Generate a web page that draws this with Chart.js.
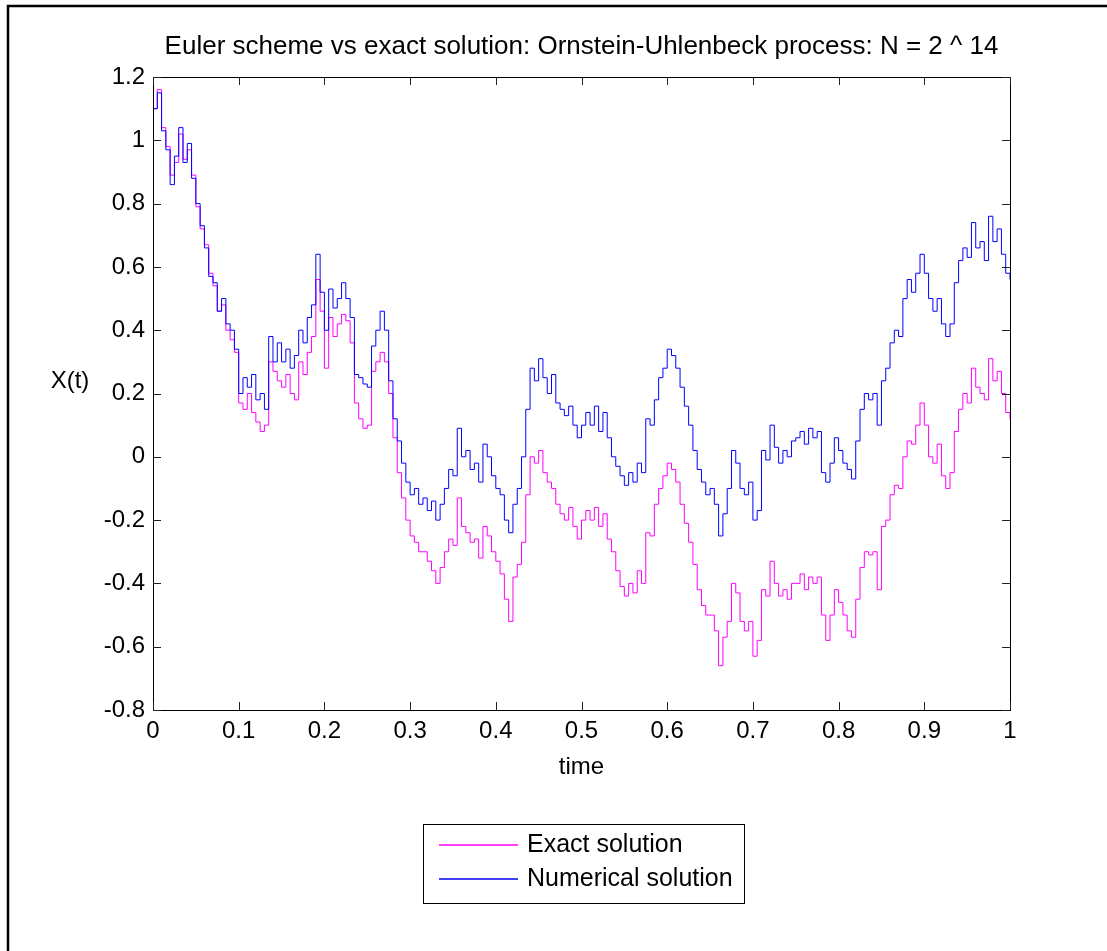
<!DOCTYPE html>
<html>
<head>
<meta charset="utf-8">
<title>Euler scheme vs exact solution</title>
<script src="https://cdn.jsdelivr.net/npm/chart.js@4.4.1/dist/chart.umd.min.js"></script>
<style>
    html, body { margin: 0; padding: 0; background: #fff; }
    #wrap { width: 1107px; height: 951px; }
</style>
</head>
<body>
<div id="wrap"><canvas id="ouChart" width="1107" height="951"></canvas></div>
<script>
// #region data (one sample every 0.005)
const exactSolution = [
    1.10, 1.16, 1.04, 0.98, 0.89, 0.93, 1.02, 0.94, 0.97, 0.89,
    0.79, 0.72, 0.67, 0.58, 0.54, 0.46, 0.48, 0.40, 0.37, 0.33,
    0.17, 0.15, 0.20, 0.14, 0.11, 0.08, 0.10, 0.30, 0.27, 0.24,
    0.22, 0.26, 0.20, 0.18, 0.30, 0.26, 0.33, 0.38, 0.56, 0.46,
    0.28, 0.44, 0.38, 0.42, 0.45, 0.43, 0.36, 0.17, 0.12, 0.09,
    0.10, 0.27, 0.30, 0.33, 0.30, 0.20, 0.06, -0.05, -0.13, -0.20,
    -0.25, -0.27, -0.30, -0.30, -0.33, -0.36, -0.40, -0.35, -0.30, -0.26,
    -0.28, -0.13, -0.22, -0.24, -0.27, -0.26, -0.32, -0.22, -0.25, -0.30,
    -0.33, -0.37, -0.45, -0.52, -0.38, -0.34, -0.27, -0.12, 0.00, -0.02,
    0.02, -0.05, -0.08, -0.10, -0.15, -0.18, -0.20, -0.16, -0.22, -0.26,
    -0.20, -0.17, -0.20, -0.16, -0.22, -0.18, -0.26, -0.30, -0.36, -0.41,
    -0.44, -0.40, -0.43, -0.36, -0.40, -0.24, -0.25, -0.15, -0.10, -0.06,
    -0.02, -0.04, -0.08, -0.15, -0.21, -0.27, -0.34, -0.42, -0.47, -0.50,
    -0.50, -0.55, -0.66, -0.57, -0.52, -0.40, -0.43, -0.52, -0.55, -0.52,
    -0.63, -0.58, -0.42, -0.44, -0.33, -0.40, -0.44, -0.42, -0.45, -0.40,
    -0.40, -0.37, -0.42, -0.38, -0.40, -0.38, -0.50, -0.58, -0.50, -0.42,
    -0.46, -0.50, -0.55, -0.57, -0.45, -0.35, -0.30, -0.31, -0.30, -0.42,
    -0.22, -0.20, -0.12, -0.09, -0.10, 0.00, 0.05, 0.04, 0.10, 0.17,
    0.10, 0.00, -0.02, 0.04, -0.06, -0.10, -0.05, 0.08, 0.15, 0.20,
    0.17, 0.28, 0.22, 0.20, 0.18, 0.31, 0.24, 0.27, 0.20, 0.14,
    0.12
];
const numericalSolution = [
    1.10, 1.15, 1.03, 0.97, 0.86, 0.95, 1.04, 0.93, 0.99, 0.88,
    0.80, 0.73, 0.66, 0.57, 0.55, 0.46, 0.50, 0.42, 0.40, 0.34,
    0.20, 0.25, 0.22, 0.26, 0.18, 0.20, 0.15, 0.38, 0.30, 0.36,
    0.30, 0.34, 0.28, 0.32, 0.40, 0.36, 0.44, 0.48, 0.64, 0.52,
    0.40, 0.53, 0.47, 0.50, 0.55, 0.50, 0.44, 0.26, 0.25, 0.23,
    0.22, 0.35, 0.40, 0.46, 0.40, 0.24, 0.12, 0.05, -0.02, -0.08,
    -0.12, -0.10, -0.15, -0.13, -0.17, -0.14, -0.20, -0.15, -0.10, -0.04,
    -0.06, 0.09, 0.00, 0.02, -0.04, -0.02, -0.08, 0.04, 0.00, -0.06,
    -0.10, -0.12, -0.20, -0.24, -0.15, -0.10, 0.00, 0.15, 0.28, 0.24,
    0.31, 0.25, 0.20, 0.26, 0.17, 0.15, 0.13, 0.16, 0.10, 0.06,
    0.10, 0.14, 0.10, 0.16, 0.08, 0.14, 0.06, 0.00, -0.03, -0.06,
    -0.09, -0.05, -0.08, -0.02, -0.05, 0.12, 0.10, 0.18, 0.25, 0.28,
    0.34, 0.32, 0.28, 0.22, 0.16, 0.10, 0.02, -0.04, -0.08, -0.12,
    -0.10, -0.15, -0.25, -0.18, -0.10, 0.02, -0.02, -0.10, -0.12, -0.08,
    -0.20, -0.17, 0.02, -0.01, 0.10, 0.03, -0.02, 0.02, 0.00, 0.05,
    0.06, 0.08, 0.04, 0.09, 0.06, 0.08, -0.05, -0.08, -0.02, 0.06,
    0.02, -0.02, -0.04, -0.07, 0.05, 0.15, 0.20, 0.18, 0.20, 0.10,
    0.24, 0.28, 0.36, 0.40, 0.38, 0.50, 0.56, 0.52, 0.58, 0.64,
    0.58, 0.50, 0.46, 0.50, 0.42, 0.38, 0.42, 0.55, 0.62, 0.66,
    0.63, 0.74, 0.66, 0.68, 0.62, 0.76, 0.68, 0.72, 0.64, 0.58,
    0.56
];
// sampling grid 0 .. 1
const time = exactSolution.map((_, i) => i / (exactSolution.length - 1));

const xTickValues = [0, 0.1, 0.2, 0.3, 0.4, 0.5, 0.6, 0.7, 0.8, 0.9, 1];
const xTickLabels = ['0', '0.1', '0.2', '0.3', '0.4', '0.5', '0.6', '0.7', '0.8', '0.9', '1'];
const yTickValues = [-0.8, -0.6, -0.4, -0.2, 0, 0.2, 0.4, 0.6, 0.8, 1, 1.2];
const yTickLabels = ['-0.8', '-0.6', '-0.4', '-0.2', '0', '0.2', '0.4', '0.6', '0.8', '1', '1.2'];

const seriesColors = ['#ff00ff', '#0000ff'];
// #endregion data

const
    canvas = document.querySelector('#ouChart'),
    FONT = '"Liberation Sans", Arial, Helvetica, sans-serif';

Chart.defaults.font.family = FONT;
Chart.defaults.color = '#000';

function toPoints(values) {
    return values.map((v, i) => ({ x: time[i], y: v }));
}

function line(ctx, x1, y1, x2, y2) {
    ctx.beginPath();
    ctx.moveTo(x1, y1);
    ctx.lineTo(x2, y2);
    ctx.stroke();
}

// matlab look: figure border, axes box, inward ticks, axis labels, boxed legend
const matlabFrame = {
    id: 'matlabFrame',
    afterDraw(chart) {
        const { ctx, chartArea: a, scales: { x, y } } = chart;
        const tickLen = 8;
        ctx.save();

        ctx.strokeStyle = '#000';
        ctx.lineWidth = 2.5;
        ctx.beginPath();
        ctx.moveTo(8, chart.height);
        ctx.lineTo(8, 6);
        ctx.lineTo(chart.width, 6);
        ctx.stroke();

        ctx.lineWidth = 1;
        ctx.strokeRect(a.left + 0.5, a.top + 0.5, a.right - a.left, a.bottom - a.top);

        ctx.strokeStyle = '#222';
        xTickValues.forEach(v => {
            const px = Math.round(x.getPixelForValue(v)) + 0.5;
            line(ctx, px, a.bottom, px, a.bottom - tickLen);
            line(ctx, px, a.top, px, a.top + tickLen);
        });
        yTickValues.forEach(v => {
            const py = Math.round(y.getPixelForValue(v)) + 0.5;
            line(ctx, a.left, py, a.left + tickLen, py);
            line(ctx, a.right, py, a.right - tickLen, py);
        });

        ctx.fillStyle = '#000';
        ctx.font = '24px ' + FONT;
        ctx.textAlign = 'center';
        ctx.textBaseline = 'middle';
        ctx.fillText('time', (a.left + a.right) / 2, 767);
        ctx.fillText('X(t)', 70, 381);

        // legend
        const box = { left: 423, top: 824, width: 321, height: 79 };
        ctx.strokeStyle = '#000';
        ctx.lineWidth = 1;
        ctx.strokeRect(box.left + 0.5, box.top + 0.5, box.width, box.height);
        ctx.font = '25px ' + FONT;
        ctx.textAlign = 'left';
        chart.data.datasets.forEach((ds, i) => {
            const cy = box.top + 21 + i * 34;
            ctx.strokeStyle = seriesColors[i];
            ctx.lineWidth = 1.4;
            line(ctx, box.left + 16, cy, box.left + 95, cy);
            ctx.fillStyle = '#000';
            ctx.fillText(ds.label, box.left + 104, cy);
        });

        ctx.restore();
    }
};

new Chart(canvas, {
    type: 'line',
    data: {
        datasets: [
            {
                label: 'Exact solution',
                data: toPoints(exactSolution),
                borderColor: seriesColors[0],
                borderWidth: 1,
                pointRadius: 0,
                stepped: true,
                order: 1
            },
            {
                label: 'Numerical solution',
                data: toPoints(numericalSolution),
                borderColor: seriesColors[1],
                borderWidth: 1,
                pointRadius: 0,
                stepped: true,
                order: 0
            }
        ]
    },
    options: {
        responsive: false,
        animation: false,
        events: [],
        layout: {
            padding: { left: 0, right: 97, top: 0, bottom: 161 }
        },
        plugins: {
            legend: { display: false },
            tooltip: { enabled: false },
            title: {
                display: true,
                fullSize: false,
                text: 'Euler scheme vs exact solution: Ornstein-Uhlenbeck process: N = 2 ^ 14',
                color: '#000',
                font: { size: 26, weight: 'normal' },
                padding: { top: 31.4, bottom: 14.4 }
            }
        },
        scales: {
            x: {
                type: 'linear',
                min: 0,
                max: 1,
                afterBuildTicks: scale => {
                    scale.ticks = xTickValues.map(value => ({ value }));
                },
                afterFit: scale => { scale.height = 80; },
                ticks: {
                    callback: (value, idx) => xTickLabels[idx],
                    font: { size: 24 },
                    color: '#000',
                    padding: 7,
                    maxRotation: 0,
                    autoSkip: false
                },
                grid: { display: false, drawTicks: false },
                border: { display: false }
            },
            y: {
                type: 'linear',
                min: -0.8,
                max: 1.2,
                afterBuildTicks: scale => {
                    scale.ticks = yTickValues.map(value => ({ value }));
                },
                afterFit: scale => { scale.width = 153; },
                ticks: {
                    callback: (value, idx) => yTickLabels[idx],
                    font: { size: 24 },
                    color: '#000',
                    padding: 8,
                    autoSkip: false
                },
                grid: { display: false, drawTicks: false },
                border: { display: false }
            }
        }
    },
    plugins: [matlabFrame]
});
</script>
</body>
</html>
